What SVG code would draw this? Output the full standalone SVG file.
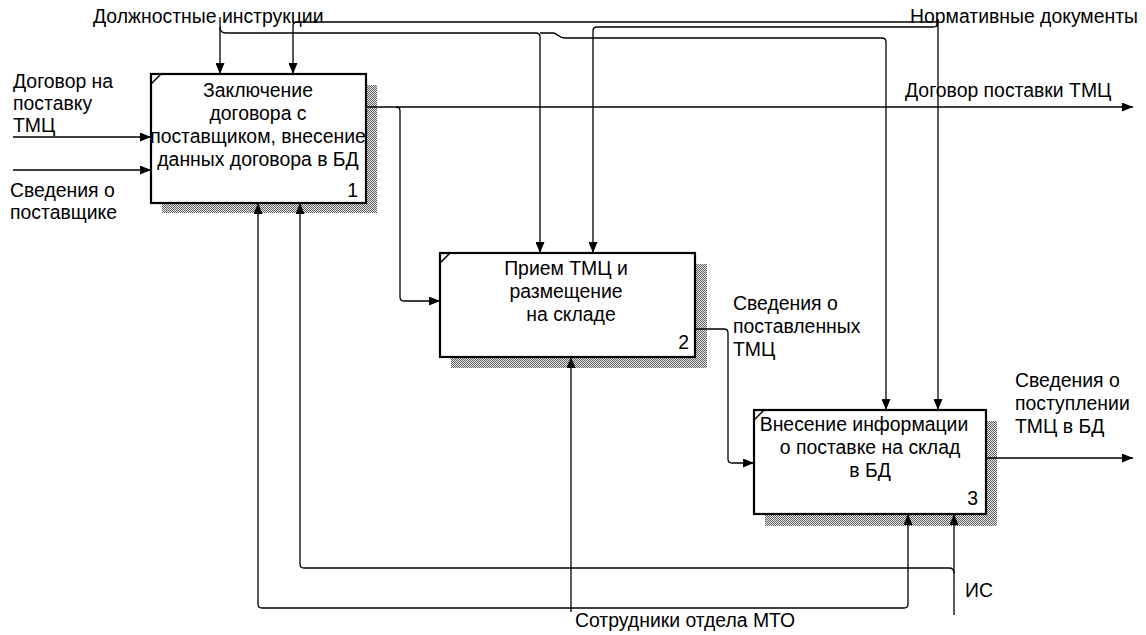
<svg xmlns="http://www.w3.org/2000/svg" width="1146" height="635" viewBox="0 0 1146 635">
<style>
text{font-family:"Liberation Sans",Arial,sans-serif;font-size:19.4px;fill:#000}
.c{text-anchor:middle}
.e{text-anchor:end}
.box{fill:#fff;stroke:#000;stroke-width:2.2}
.shadow{fill:url(#hatch)}
.tick{stroke:#000;stroke-width:1.5}
.con path{fill:none;stroke:#000;stroke-width:1.3}
.arr{marker-end:url(#ah)}
</style>
<defs>
<pattern id="hatch" width="2" height="2" patternUnits="userSpaceOnUse">
<rect width="2" height="2" fill="#e8e8e8"/>
<rect x="0" y="0" width="1" height="1" fill="#606060"/>
<rect x="1" y="1" width="1" height="1" fill="#606060"/>
</pattern>
<marker id="ah" markerWidth="11" markerHeight="9" refX="11" refY="4.5" orient="auto" markerUnits="userSpaceOnUse">
<path d="M0,0 L11,4.5 L0,9 z" fill="#000"/>
</marker>
</defs>
<rect width="1146" height="635" fill="#fff"/>

<g id="node1">
<rect class="shadow" x="162" y="85" width="215" height="128"/>
<rect class="box" x="151" y="74" width="215" height="129"/>
<line class="tick" x1="151" y1="84" x2="161" y2="74"/>
<text class="c" x="258" y="97">Заключение</text>
<text class="c" x="258" y="120">договора с</text>
<text class="c" x="258" y="143">поставщиком, внесение</text>
<text class="c" x="258" y="166">данных договора в БД</text>
<text class="e" x="358" y="197">1</text>
</g>

<g id="node2">
<rect class="shadow" x="451" y="264" width="256" height="104"/>
<rect class="box" x="440" y="253" width="255" height="104"/>
<line class="tick" x1="440" y1="263" x2="450" y2="253"/>
<text class="c" x="566" y="275">Прием ТМЦ и</text>
<text class="c" x="566" y="298">размещение</text>
<text class="c" x="571" y="321">на складе</text>
<text class="e" x="689" y="349">2</text>
</g>

<g id="node3">
<rect class="shadow" x="765" y="421" width="232" height="105"/>
<rect class="box" x="754" y="410" width="232" height="104"/>
<line class="tick" x1="754" y1="420" x2="764" y2="410"/>
<text class="c" x="864" y="431">Внесение информации</text>
<text class="c" x="870" y="454">о поставке на склад</text>
<text class="c" x="870" y="477">в БД</text>
<text class="e" x="978" y="505">3</text>
</g>

<g id="connectors" class="con">
<path class="arr" d="M13,137 H151"/>
<path class="arr" d="M13,170 H151"/>
<path class="arr" d="M220,17 V74"/>
<path class="arr" d="M220,27 Q220,33 226,33 H536 Q540,33 540,37 V253"/>
<path class="arr" d="M540,33 H553 C558,33 558,38 565,38 H882 Q886,38 886,42 V410"/>
<path class="arr" d="M938,20 V410"/>
<path class="arr" d="M938,19 Q938,22 934,22 H297 Q293,22 293,26 V74"/>
<path class="arr" d="M938,23 Q938,27 933,27 H597 Q593,27 593,31 V253"/>
<path class="arr" d="M366,107 H1133"/>
<path class="arr" d="M396,107 Q400,107 400,111 V297 Q400,301 404,301 H440"/>
<path class="arr" d="M695,329 H724 Q728,329 728,333 V459 Q728,463 732,463 H754"/>
<path class="arr" d="M986,458 H1133"/>
<path class="arr" d="M571,612 V357"/>
<path class="arr" d="M571,608 H262 Q258,608 258,604 V203"/>
<path class="arr" d="M571,608 H904 Q908,608 908,604 V514"/>
<path class="arr" d="M954,615 V514"/>
<path class="arr" d="M954,573 Q954,568 949,568 H304 Q300,568 300,564 V203"/>
</g>

<g id="labels">
<text x="93" y="23">Должностные инструкции</text>
<text x="910" y="23">Нормативные документы</text>
<text x="13" y="88">Договор на</text>
<text x="13" y="110">поставку</text>
<text x="13" y="132">ТМЦ</text>
<text x="10" y="197">Сведения о</text>
<text x="10" y="219">поставщике</text>
<text x="905" y="97">Договор поставки ТМЦ</text>
<text x="733" y="310">Сведения о</text>
<text x="733" y="333">поставленных</text>
<text x="733" y="356">ТМЦ</text>
<text x="1015" y="387">Сведения о</text>
<text x="1015" y="410">поступлении</text>
<text x="1015" y="433">ТМЦ в БД</text>
<text x="965" y="597">ИС</text>
<text x="575" y="627">Сотрудники отдела МТО</text>
</g>
</svg>
